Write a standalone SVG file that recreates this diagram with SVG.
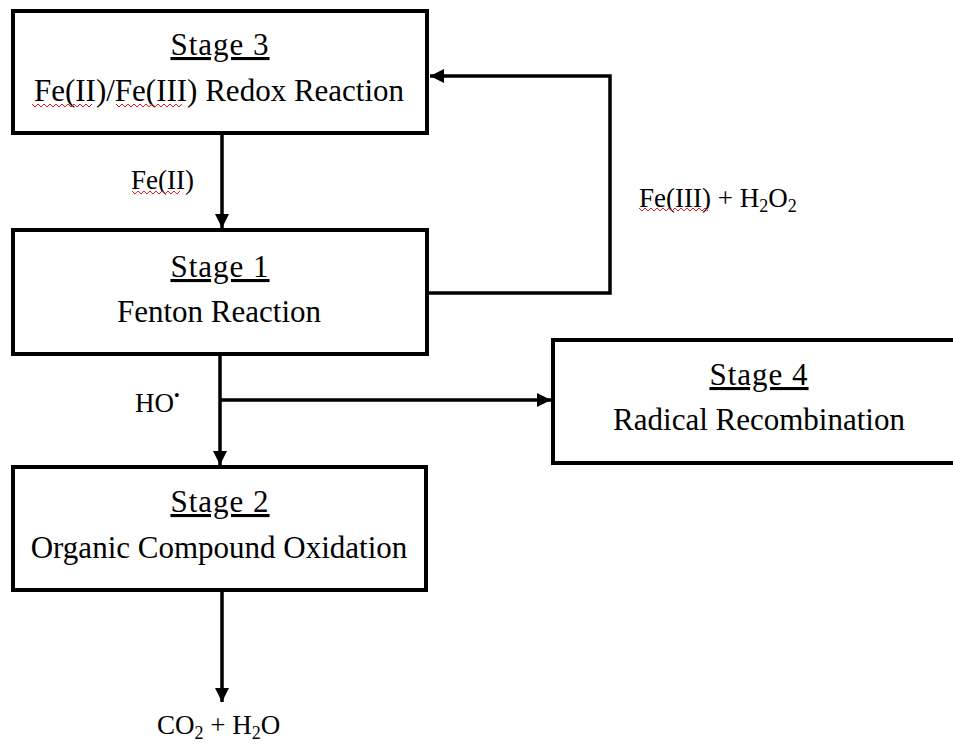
<svg xmlns="http://www.w3.org/2000/svg" width="953" height="744" viewBox="0 0 953 744">
<style>
.box{fill:#fff;stroke:#000;stroke-width:4}
.t{font-family:"Liberation Serif","Times New Roman",serif;font-size:31px;fill:#000;text-anchor:middle}
.u{text-decoration:underline;letter-spacing:1px}
.l{font-family:"Liberation Serif","Times New Roman",serif;font-size:27px;fill:#000}
.c{fill:none;stroke:#000;stroke-width:3.5}
.sq{fill:none;stroke:#e02020;stroke-width:1}
</style>
<defs>
<marker id="ah" viewBox="0 0 10 10" refX="10" refY="5" markerWidth="4" markerHeight="4" orient="auto" markerUnits="strokeWidth">
<path d="M0,0 L10,5 L0,10 z" fill="#000"/>
</marker>
</defs>
<rect width="953" height="744" fill="#fff"/>
<g id="connectors">
<path class="c" d="M222,134 V228" marker-end="url(#ah)"/>
<path class="c" d="M428,293 H610 V76 H430" marker-end="url(#ah)"/>
<path class="c" d="M220,355 V465" marker-end="url(#ah)"/>
<path class="c" d="M220,400 H551" marker-end="url(#ah)"/>
<path class="c" d="M222,590 V702" marker-end="url(#ah)"/>
</g>
<g id="stage3">
<rect class="box" x="13" y="11" width="414" height="122"/>
<text class="t u" x="220" y="55">Stage 3</text>
<text class="t" x="219" y="101">Fe(II)/Fe(III) Redox Reaction</text>
<path class="sq" d="M32,104 l3,3 l3,-3 l3,3 l3,-3 l3,3 l3,-3 l3,3 l3,-3 l3,3 l3,-3 l3,3 l3,-3 l3,3 l3,-3 l3,3 l3,-3 l3,3 l3,-3 l3,3 l3,-3"/>
<path class="sq" d="M116,104 l3,3 l3,-3 l3,3 l3,-3 l3,3 l3,-3 l3,3 l3,-3 l3,3 l3,-3 l3,3 l3,-3 l3,3 l3,-3 l3,3 l3,-3 l3,3 l3,-3 l3,3 l3,-3 l3,3 l3,-3"/>
</g>
<g id="stage1">
<rect class="box" x="13" y="230" width="414" height="124"/>
<text class="t u" x="220" y="277">Stage 1</text>
<text class="t" x="219" y="322">Fenton Reaction</text>
</g>
<g id="stage2">
<rect class="box" x="13" y="467" width="413" height="123"/>
<text class="t u" x="220" y="512">Stage 2</text>
<text class="t" x="219" y="558">Organic Compound Oxidation</text>
</g>
<g id="stage4">
<rect class="box" x="553" y="340" width="410" height="123"/>
<text class="t u" x="759" y="385">Stage 4</text>
<text class="t" x="759" y="430">Radical Recombination</text>
</g>
<g id="labels">
<text class="l" x="131" y="189">Fe(II)</text>
<path class="sq" d="M132,191 l3,3 l3,-3 l3,3 l3,-3 l3,3 l3,-3 l3,3 l3,-3 l3,3 l3,-3 l3,3 l3,-3 l3,3 l3,-3 l3,3 l3,-3"/>
<text class="l" x="639" y="207">Fe(III) + H<tspan font-size="18" dy="5">2</tspan><tspan dy="-5">O</tspan><tspan font-size="18" dy="5">2</tspan></text>
<path class="sq" d="M639,208 l3,3 l3,-3 l3,3 l3,-3 l3,3 l3,-3 l3,3 l3,-3 l3,3 l3,-3 l3,3 l3,-3 l3,3 l3,-3 l3,3 l3,-3 l3,3 l3,-3 l3,3 l3,-3 l3,3 l3,-3 l3,3"/>
<text class="l" x="135" y="412">HO<tspan font-size="16" dy="-11">•</tspan></text>
<text class="l" x="157" y="734">CO<tspan font-size="18" dy="5">2</tspan><tspan dy="-5"> + H</tspan><tspan font-size="18" dy="5">2</tspan><tspan dy="-5">O</tspan></text>
</g>
</svg>
